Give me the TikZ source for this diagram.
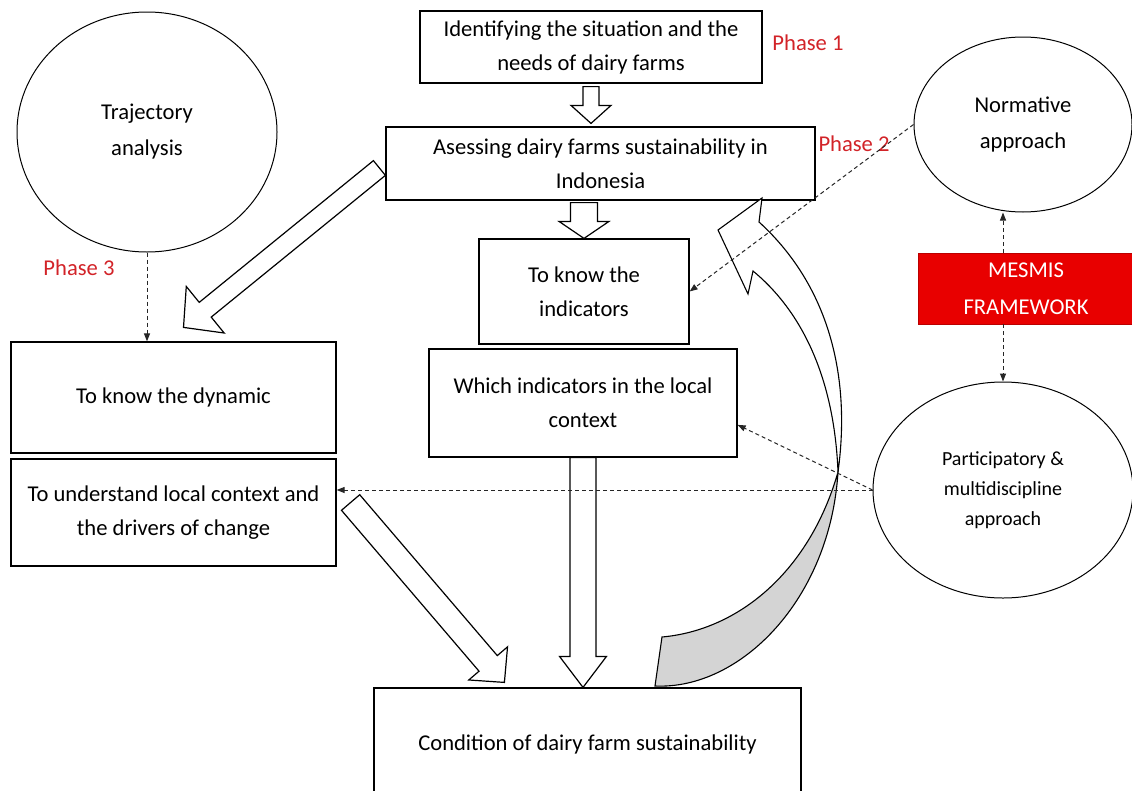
\documentclass[tikz,border=0pt]{standalone}
\usepackage{fontspec}
\setmainfont{Carlito}
\usepackage{tikz}
\usetikzlibrary{shapes.geometric, arrows.meta, calc}

\definecolor{phasered}{RGB}{210,35,40}
\definecolor{mesmisred}{RGB}{232,0,0}
\definecolor{backgray}{RGB}{212,212,212}

% block arrow: start, tip, half shaft, half head, head length
\newcommand{\blockarrow}[5]{%
  \path ($#2!#5!#1$) coordinate (bh);
  \draw[blockarr] ($#1!#3!90:#2$) -- ($(bh)!#3!90:#2$) -- ($(bh)!#4!90:#2$) -- #2
    -- ($(bh)!#4!-90:#2$) -- ($(bh)!#3!-90:#2$) -- ($#1!#3!-90:#2$) -- cycle;}

\begin{document}
\begin{tikzpicture}[x=1pt, y=-1pt,
  box/.style={draw, line width=1.2pt, inner sep=0pt, align=center, font={\fontsize{22.6}{34}\selectfont}},
  oval/.style={ellipse, draw, line width=1pt, inner sep=0pt, align=center, font={\fontsize{22.6}{36}\selectfont}},
  mesmis/.style={fill=mesmisred, draw=mesmisred!80!black, text=white, inner sep=0pt, align=center,
    minimum width=216pt, minimum height=71pt, font={\fontsize{22.6}{37}\selectfont}},
  phase/.style={text=phasered, inner sep=0pt, font={\fontsize{22.6}{27}\selectfont}},
  blockarr/.style={draw, fill=white, line width=1.2pt, line join=miter},
  dashlink/.style={draw=black!85, line width=1pt, dash pattern=on 4pt off 3pt, -{Triangle[length=8pt,width=6pt]}}]
\useasboundingbox (0,0) rectangle (1132,790);

% boxes down the middle
\node[box, minimum width=342pt, minimum height=72pt] (ident) at (591,47) {Identifying the situation and the\\needs of dairy farms};
\node[box, minimum width=429pt, minimum height=73pt] (assess) at (600.5,163.5) {Asessing dairy farms sustainability in\\Indonesia};
\node[box, minimum width=210pt, minimum height=105pt] (knowind) at (584,291.5) {To know the\\indicators};
\node[box, minimum width=308pt, minimum height=108pt] (whichind) at (583,403) {Which indicators in the local\\context};
\node[box, minimum width=427pt, minimum height=112pt] (condition) at (587.5,744) {Condition of dairy farm sustainability};

% left side
\node[box, minimum width=325pt, minimum height=111pt] (dynamic) at (173.5,397.5) {To know the dynamic};
\node[box, minimum width=325pt, minimum height=107pt] (localctx) at (173.5,512.5) {To understand local context and\\the drivers of change};
\node[oval, minimum width=260pt, minimum height=240pt] (traj) at (147,132) {Trajectory\\analysis};

% right side
\node[oval, minimum width=218pt, minimum height=175pt] (norm) at (1023,124.5) {Normative\\approach};
\node[mesmis] (mesmisbox) at (1026,288.5) {MESMIS\\FRAMEWORK};
\node[oval, minimum width=260pt, minimum height=216pt, font={\fontsize{20}{30}\selectfont}] (part) at (1003,490) {Participatory \&\\multidiscipline\\approach};

% phases
\node[phase] (phaseone) at (808,43) {Phase 1};
\node[phase] (phasetwo) at (854,144) {Phase 2};
\node[phase] (phasethree) at (79,268) {Phase 3};

% curved arrow back up
\draw[line width=1.1pt, fill=backgray] (838,472) .. controls (830,600) and (740,690) .. (655,686) -- (662,637)
  .. controls (740,630) and (810,570) .. (838,472) -- cycle;
\draw[line width=1.1pt, fill=white, line join=miter] (762,198) -- (718,230) -- (748,294) -- (753,271)
  .. controls (798,308) and (834,372) .. (838,472) .. controls (852,370) and (825,282) .. (759,222) -- cycle;

% block arrows
\blockarrow{([yshift=-3pt]ident.south)}{([yshift=3pt]ident.south |- assess.north)}{8pt}{20pt}{18pt}
\blockarrow{([yshift=-2pt]knowind.north |- assess.south)}{(knowind.north)}{13.5pt}{25pt}{17pt}
\blockarrow{([shift={(-6,4.5)}]assess.west)}{([shift={(10,-14)}]dynamic.north)}{9.5pt}{30pt}{28pt}
\blockarrow{(whichind.south)}{(whichind.south |- condition.north)}{13pt}{23.5pt}{31pt}
\blockarrow{([shift={(14,-10)}]localctx.east)}{([shift={(131,-5)}]condition.north west)}{12pt}{25.5pt}{25pt}

% dashed links
\draw[dashlink] (traj.south) -- (traj.south |- dynamic.north);
\draw[dashlink] (norm.west) -- (knowind.east);
\draw[dashlink] (mesmisbox.north -| part.north) -- (part.north |- norm.south);
\draw[dashlink] (mesmisbox.south -| part.north) -- (part.north);
\draw[dashlink] (part.west) -- ($(whichind.north east)!0.7!(whichind.south east)$);
\draw[dashlink] (part.west) -- (part.west -| localctx.east);
\end{tikzpicture}
\end{document}
